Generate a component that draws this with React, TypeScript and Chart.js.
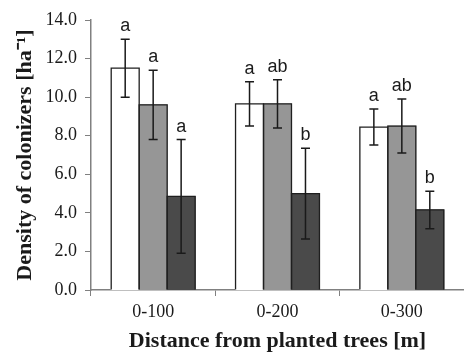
import React, { useEffect, useRef } from "react";
import { Chart, registerables } from "chart.js";

Chart.register(...registerables);

const categories = ["0-100", "0-200", "0-300"];
const series1Values = [11.5, 9.65, 8.45];
const series2Values = [9.6, 9.65, 8.5];
const series3Values = [4.85, 5.0, 4.15];
const series1Errors = [1.5, 1.15, 0.93];
const series2Errors = [1.8, 1.25, 1.4];
const series3Errors = [2.95, 2.35, 0.97];
const series1Letters = ["a", "a", "a"];
const series2Letters = ["a", "ab", "ab"];
const series3Letters = ["a", "b", "b"];
const yTicks = [0, 2, 4, 6, 8, 10, 12, 14];

const errors = [series1Errors, series2Errors, series3Errors];
const letters = [series1Letters, series2Letters, series3Letters];

const SERIF = "'Liberation Serif', 'Times New Roman', serif";
const SANS = "'Liberation Sans', Arial, sans-serif";

const outlinePlugin = {
  id: "barOutlines",
  afterDatasetsDraw(chart: any) {
    const ctx = chart.ctx;
    ctx.save();
    ctx.strokeStyle = "#1f1f1f";
    ctx.lineWidth = 1.3;
    chart.data.datasets.forEach((_ds: any, di: number) => {
      const meta = chart.getDatasetMeta(di);
      meta.data.forEach((el: any) => {
        const l = el.x - el.width / 2;
        const r = el.x + el.width / 2;
        ctx.beginPath();
        ctx.moveTo(l, el.base);
        ctx.lineTo(l, el.y);
        ctx.lineTo(r, el.y);
        ctx.lineTo(r, el.base);
        ctx.stroke();
      });
    });
    ctx.restore();
  },
};

const errorBarPlugin = {
  id: "errorBars",
  afterDatasetsDraw(chart: any) {
    const ctx = chart.ctx;
    const yScale = chart.scales.y;
    ctx.save();
    chart.data.datasets.forEach((ds: any, di: number) => {
      const meta = chart.getDatasetMeta(di);
      meta.data.forEach((el: any, i: number) => {
        const v = ds.data[i];
        const e = errors[di][i];
        const x = el.x;
        const yT = yScale.getPixelForValue(v + e);
        const yB = yScale.getPixelForValue(v - e);
        ctx.strokeStyle = "#1a1a1a";
        ctx.lineWidth = 1.5;
        ctx.beginPath();
        ctx.moveTo(x, yT);
        ctx.lineTo(x, yB);
        ctx.moveTo(x - 4.5, yT);
        ctx.lineTo(x + 4.5, yT);
        ctx.moveTo(x - 4.5, yB);
        ctx.lineTo(x + 4.5, yB);
        ctx.stroke();
        ctx.fillStyle = "#1a1a1a";
        ctx.font = `18px ${SANS}`;
        ctx.textAlign = "center";
        ctx.textBaseline = "alphabetic";
        ctx.fillText(letters[di][i], x, yT - 8);
      });
    });
    ctx.restore();
  },
};

export default function App() {
  const ref = useRef<HTMLCanvasElement | null>(null);
  useEffect(() => {
    document.body.style.margin = "0";
    const canvas = ref.current;
    if (!canvas) return;
    const chart = new Chart(canvas, {
      type: "bar",
      data: {
        labels: categories,
        datasets: [
          { data: series1Values, backgroundColor: "#ffffff", borderWidth: 0, inflateAmount: 0.5 },
          { data: series2Values, backgroundColor: "#969696", borderWidth: 0, inflateAmount: 0.5 },
          { data: series3Values, backgroundColor: "#4a4a4a", borderWidth: 0, inflateAmount: 0.5 },
        ],
      },
      options: {
        animation: false,
        responsive: false,
        devicePixelRatio: 1,
        layout: { padding: { top: 20, right: 0, left: 0, bottom: 0 } },
        datasets: { bar: { categoryPercentage: 0.675, barPercentage: 1.0 } },
        plugins: {
          legend: { display: false },
          tooltip: { enabled: false },
        },
        scales: {
          x: {
            grid: {
              display: true,
              drawOnChartArea: false,
              drawTicks: true,
              tickLength: 6,
              color: "#808080",
              offset: true,
            },
            border: { display: true, color: "#808080", width: 1.5 },
            ticks: {
              color: "#1a1a1a",
              padding: 5,
              font: { family: SERIF, size: 18 },
            },
            title: {
              display: true,
              text: "Distance from planted trees [m]",
              color: "#1a1a1a",
              font: { family: SERIF, size: 22, weight: "bold", lineHeight: 1 },
              padding: { top: 0, bottom: 0 },
            },
            afterFit: (s: any) => {
              s.height = 62;
            },
          },
          y: {
            min: 0,
            max: 14,
            afterBuildTicks: (s: any) => {
              s.ticks = yTicks.map((v) => ({ value: v }));
            },
            grid: {
              display: true,
              drawOnChartArea: false,
              drawTicks: true,
              tickLength: 6,
              color: "#808080",
            },
            border: { display: true, color: "#808080", width: 1.5 },
            ticks: {
              color: "#1a1a1a",
              padding: 8,
              font: { family: SERIF, size: 18 },
              callback: (v: any) => Number(v).toFixed(1),
            },
            title: {
              display: true,
              text: "Density of colonizers [ha⁻¹]",
              color: "#1a1a1a",
              font: { family: SERIF, size: 22, weight: "bold", lineHeight: 1 },
              padding: { top: 14, bottom: 0 },
            },
            afterFit: (s: any) => {
              s.width = 91;
            },
          },
        },
      },
      plugins: [outlinePlugin, errorBarPlugin],
    });
    return () => chart.destroy();
  }, []);
  return (
    <div style={{ width: 464, height: 352 }}>
      <canvas ref={ref} width={464} height={352} style={{ display: "block" }} />
    </div>
  );
}
